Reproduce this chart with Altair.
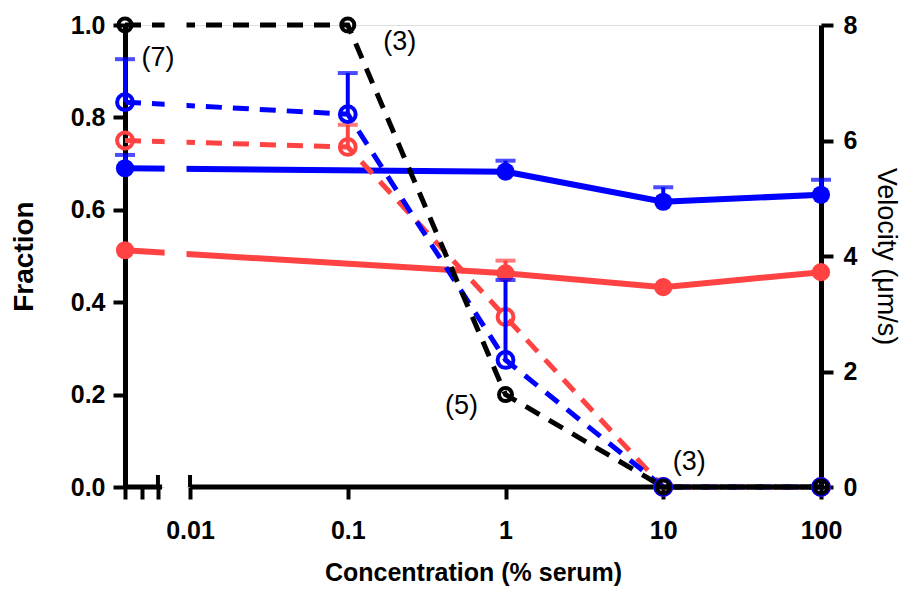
import altair as alt
import pandas as pd

# ---- data ----
# first concentration is the "no serum" point drawn on the broken left segment of the log axis
conc = [0.00387, 0.1, 1, 10, 100]
frac_black = [1.0, 1.0, 0.2, 0.0, 0.0]
frac_blue = [0.833, 0.807, 0.275, 0.0, 0.0]
frac_blue_hi = [0.926, 0.896, 0.448, None, None]
frac_red = [0.75, 0.736, 0.368, 0.0, 0.0]
frac_red_hi = [None, 0.784, None, None, None]

conc_vel = [0.00387, 1, 10, 100]
vel_blue = [5.52, 5.46, 4.94, 5.06]
vel_blue_hi = [5.75, 5.65, 5.19, 5.32]
vel_red = [4.10, 3.70, 3.46, 3.72]
vel_red_hi = [None, 3.92, None, None]

n_labels = ["(7)", "(3)", "(5)", "(3)"]

x_ticks = [0.00387, 0.00497, 0.00626, 0.01, 0.1, 1, 10, 100]
frac_ticks = [0, 0.2, 0.4, 0.6, 0.8, 1.0]
vel_ticks = [0, 2, 4, 6, 8]

# axis break pieces (in data units)
axis_seg_start = [0.00387, 0.01]
axis_seg_end = [0.00665, 100]
break_lo = [0.0069]
break_hi = [0.0095]
cap_at = [0.00626, 0.01]

FONT = "Liberation Sans"
BLUE = "#0000FF"
RED = "#FF4242"
BLACK = "#000000"

xscale = alt.Scale(type="log", domain=[0.00387, 100], nice=False)
xaxis = alt.Axis(
    values=x_ticks,
    labelExpr="datum.value < 0.009 ? '' : format(datum.value, '~g')",
    domain=False, grid=False, ticks=True, tickSize=12, tickWidth=4, tickColor=BLACK,
    labelFont=FONT, labelFontSize=25, labelFontWeight="bold", labelColor=BLACK,
    labelPadding=19, labelFlush=False, labelOverlap=False,
    title="Concentration (% serum)", titleFont=FONT, titleFontSize=25,
    titleFontWeight="bold", titleColor=BLACK, titleBaseline="alphabetic", titleY=93,
)

fscale = alt.Scale(domain=[0, 1], nice=False)
faxis = alt.Axis(
    orient="left", values=frac_ticks, format=".1f", grid=False,
    domainWidth=5, domainColor=BLACK, tickSize=12, tickWidth=4, tickColor=BLACK,
    labelFont=FONT, labelFontSize=25, labelFontWeight="bold", labelColor=BLACK, labelPadding=8,
    title="Fraction", titleFont=FONT, titleFontSize=28, titleFontWeight="bold", titleColor=BLACK,
    titleX=-101, titleY=231, titleBaseline="middle", titleAngle=270,
)

vscale = alt.Scale(domain=[0, 8], nice=False)
vaxis = alt.Axis(
    orient="right", values=vel_ticks, format="d", grid=False,
    domainWidth=5, domainColor=BLACK, tickSize=12, tickWidth=4, tickColor=BLACK,
    labelFont=FONT, labelFontSize=25, labelFontWeight="bold", labelColor=BLACK, labelPadding=10,
    title="Velocity (μm/s)", titleFont=FONT, titleFontSize=27, titleFontWeight="normal",
    titleColor=BLACK, titleX=64, titleY=231, titleBaseline="middle", titleAngle=90,
)

X = alt.X("c:Q", scale=xscale, axis=xaxis)
X2 = alt.X2("c2")
YV = alt.Y("f:Q", scale=vscale, axis=vaxis)
YF = alt.Y("f:Q", scale=fscale, axis=faxis)


def series_df(xs, ys):
    return pd.DataFrame({"c": xs, "f": ys})


def err_df(xs, ys, his):
    rows = [(c, y, h) for c, y, h in zip(xs, ys, his) if h is not None]
    return pd.DataFrame({"c": [r[0] for r in rows], "f": [r[1] for r in rows],
                         "f2": [r[2] for r in rows]})


def error_layers(df, color, scale, axis):
    bar = alt.Chart(df).mark_rule(color=color, strokeWidth=4).encode(
        x=X, y=alt.Y("f:Q", scale=scale, axis=axis), y2=alt.Y2("f2"))
    cap = alt.Chart(df).mark_tick(
        color=color, orient="horizontal", size=20, thickness=4
    ).encode(x=X, y=alt.Y("f2:Q", scale=scale, axis=axis))
    return [bar, cap]


# ---- velocity (right axis): solid lines, filled circles ----
vel_layers = []
for ys, his, color in [(vel_red, vel_red_hi, RED), (vel_blue, vel_blue_hi, BLUE)]:
    df = series_df(conc_vel, ys)
    vel_layers.append(alt.Chart(df).mark_line(color=color, strokeWidth=6).encode(x=X, y=YV))
    vel_layers += error_layers(err_df(conc_vel, ys, his), color, vscale, vaxis)
    vel_layers.append(alt.Chart(df).mark_point(shape="circle", filled=True, color=color,
                                               size=330, opacity=1).encode(x=X, y=YV))
vel_group = alt.layer(*vel_layers)

# ---- fraction (left axis): dashed lines, open circles ----
frac_specs = [
    (frac_red, frac_red_hi, RED, 250),
    (frac_blue, frac_blue_hi, BLUE, 250),
    (frac_black, [None] * 5, BLACK, 170),
]
frac_layers = []
for ys, his, color, psize in frac_specs:
    df = series_df(conc, ys)
    frac_layers.append(alt.Chart(df).mark_line(color=color, strokeWidth=5,
                                               strokeDash=[16, 11]).encode(x=X, y=YF))

# white gap for the axis break (cuts the lines)
brk = pd.DataFrame({"c": break_lo, "c2": break_hi, "f": [-0.01], "f2": [1.04]})
frac_layers.append(alt.Chart(brk).mark_rect(color="white").encode(
    x=X, x2=X2, y=YF, y2=alt.Y2("f2")))

# broken x-axis line
segs = pd.DataFrame({"c": axis_seg_start, "c2": axis_seg_end, "f": [0, 0]})
frac_layers.append(alt.Chart(segs).mark_rule(color=BLACK, strokeWidth=5).encode(x=X, x2=X2, y=YF))
caps = pd.DataFrame({"c": cap_at, "f": [0, 0], "f2": [0.026, 0.026]})
frac_layers.append(alt.Chart(caps).mark_rule(color=BLACK, strokeWidth=4).encode(
    x=X, y=YF, y2=alt.Y2("f2")))

for ys, his, color, psize in frac_specs:
    df = series_df(conc, ys)
    e = err_df(conc, ys, his)
    if len(e):
        frac_layers += error_layers(e, color, fscale, faxis)
    frac_layers.append(alt.Chart(df).mark_point(shape="circle", filled=False, color=color,
                                                strokeWidth=4, size=psize, opacity=1).encode(x=X, y=YF))

# n labels next to the black series
lab_df = pd.DataFrame({"c": conc[:4], "f": frac_black[:4], "t": n_labels})
offsets = [(33, 33), (52, 17), (-44, 11), (26, -25)]
for i, (dx, dy) in enumerate(offsets):
    frac_layers.append(
        alt.Chart(lab_df.iloc[[i]]).mark_text(font=FONT, fontSize=27, color=BLACK,
                                              dx=dx, dy=dy, align="center", baseline="middle")
        .encode(x=X, y=YF, text="t:N")
    )
frac_group = alt.layer(*frac_layers)

chart = (
    alt.layer(vel_group, frac_group)
    .resolve_scale(y="independent")
    .properties(width=696, height=462,
                autosize=alt.AutoSizeParams(type="none"),
                padding={"left": 117, "top": 17, "right": 85, "bottom": 99})
    .configure_view(stroke=None)
    .configure(background="white")
)

chart.save("out.html", embed_options={"renderer": "svg", "actions": False})
